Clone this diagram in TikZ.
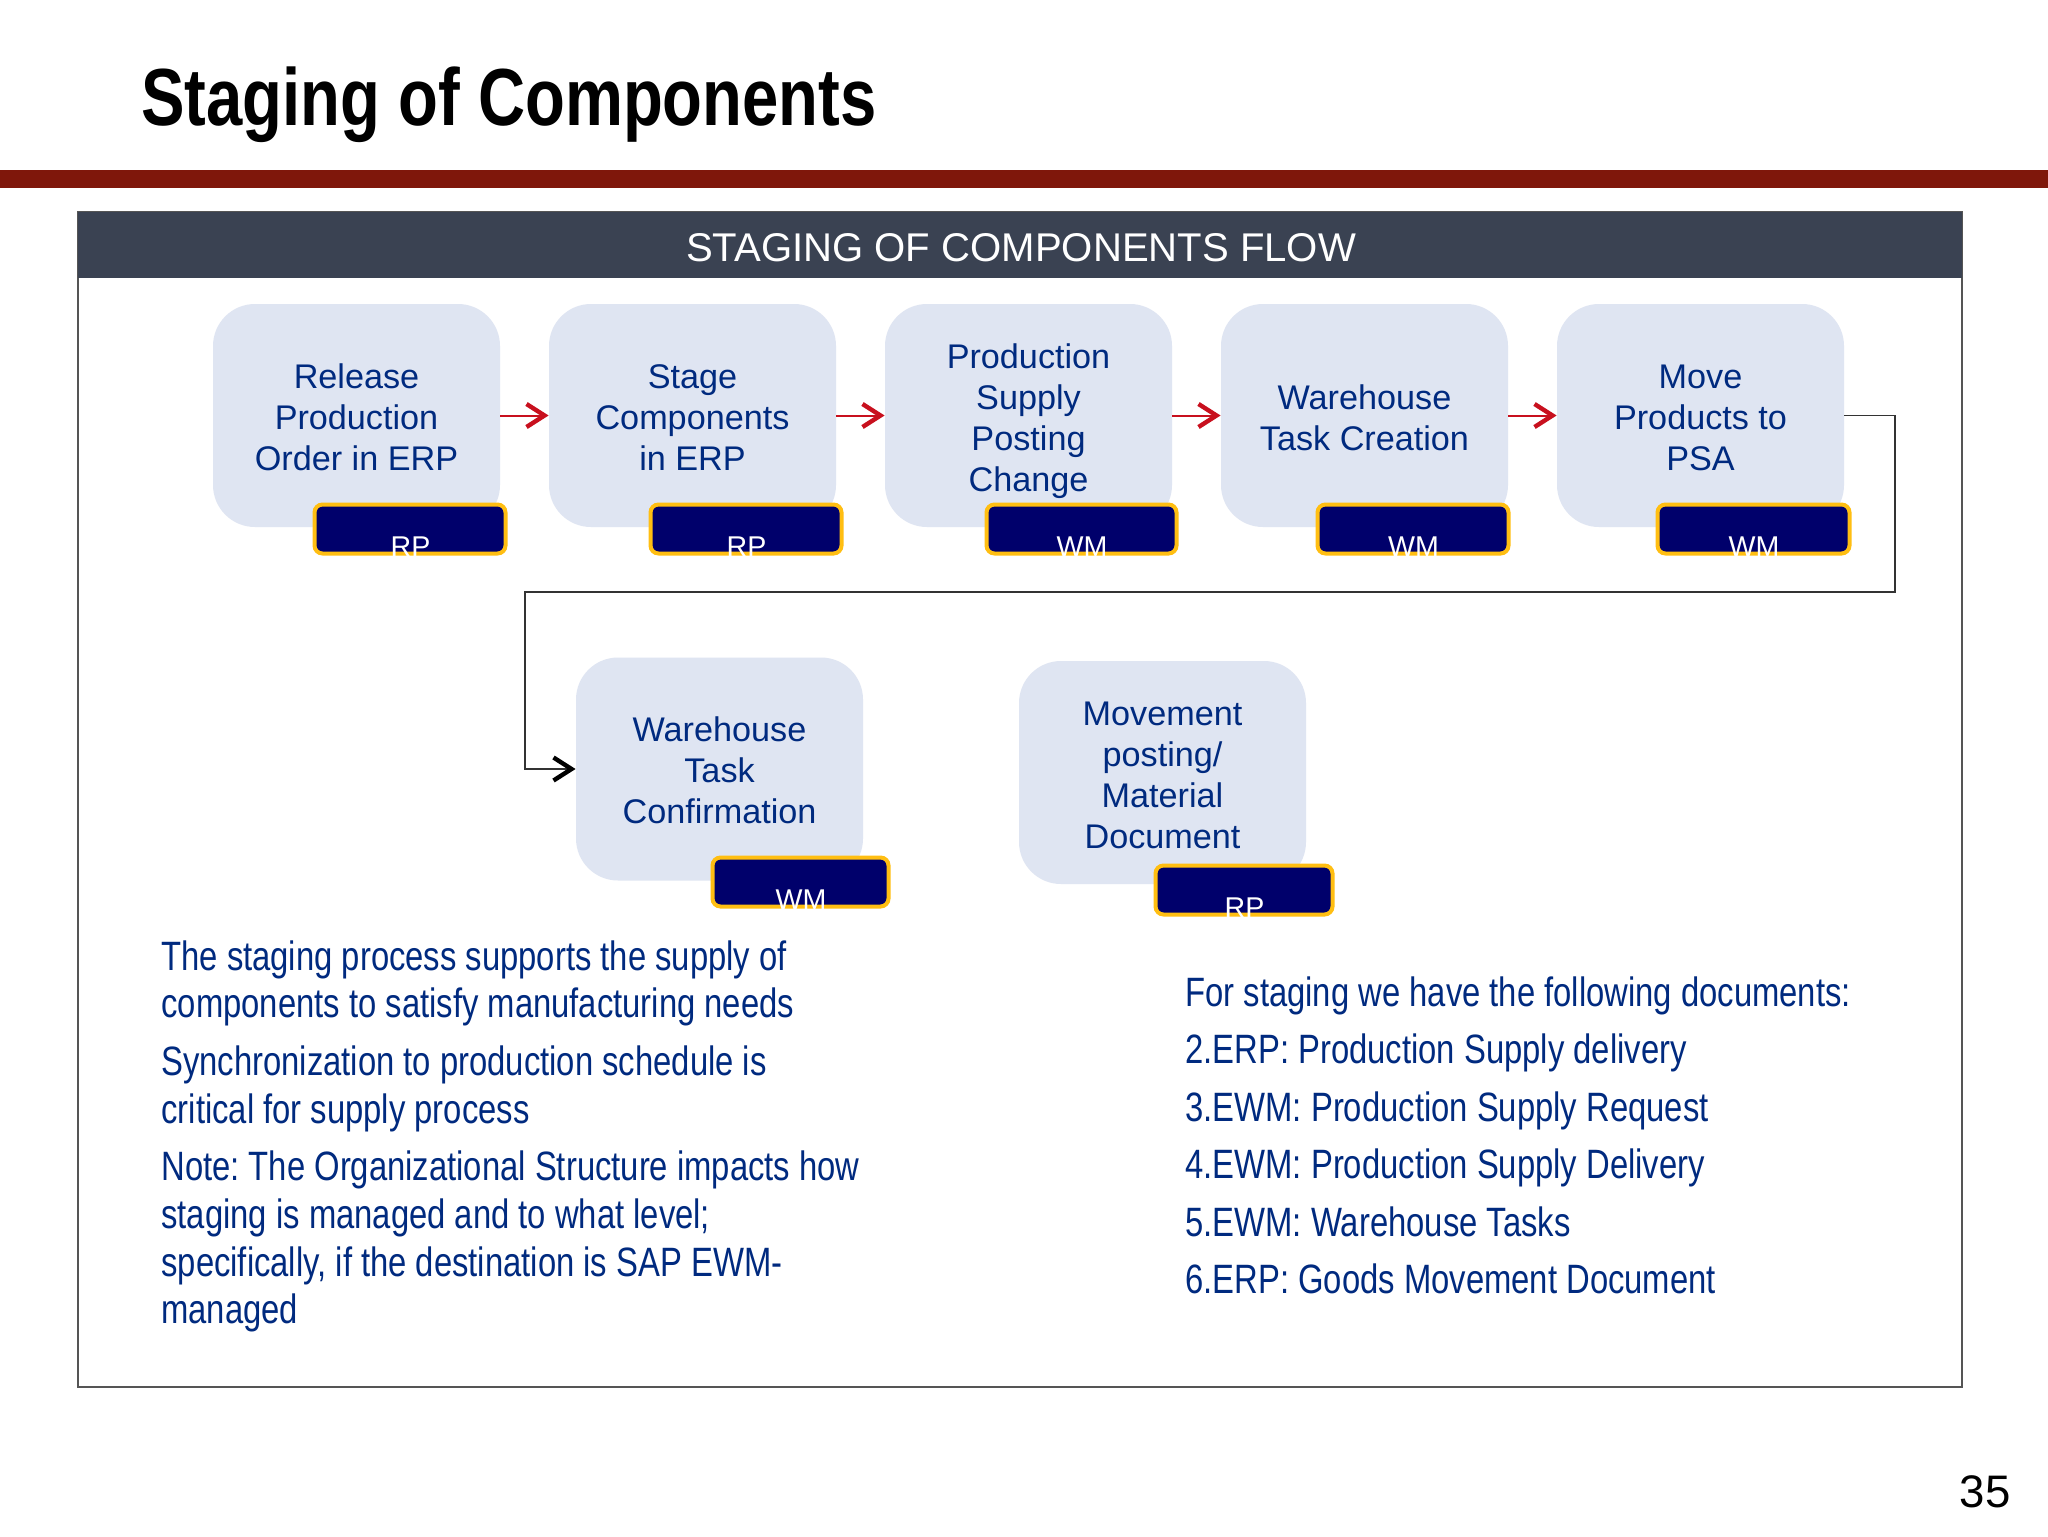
\documentclass[tikz,border=0pt]{standalone}
\usepackage{fontspec}
\setmainfont{Liberation Sans}
\newfontfamily\narrowfont[FakeStretch=0.8]{Liberation Sans}
\newfontfamily\narrowbold[FakeStretch=0.805]{Liberation Sans Bold}
\usetikzlibrary{arrows.meta}
\definecolor{barred}{HTML}{7F170B}
\definecolor{headbg}{HTML}{3A4252}
\definecolor{boxbg}{HTML}{DFE5F2}
\definecolor{inktext}{HTML}{002A7F}
\definecolor{badgebg}{HTML}{00006B}
\definecolor{badgeedge}{HTML}{FFBE12}
\definecolor{arrowred}{HTML}{C8101E}
\definecolor{linegrey}{HTML}{333333}
\definecolor{panelgrey}{HTML}{555555}
\tikzset{
  stepbox/.style={fill=boxbg,rounded corners=21pt,minimum width=143.5pt,minimum height=111.5pt,inner sep=0pt},
  steptext/.style={inner sep=0pt,align=center,text=inktext,font=\fontsize{17.1pt}{20.5pt}\selectfont},
  badgebox/.style={fill=badgebg,draw=badgeedge,line width=2pt,rounded corners=4pt,inner sep=0pt},
  badgetext/.style={text=white,font=\fontsize{14.3pt}{16pt}\selectfont,anchor=base,inner sep=0pt},
  redflow/.style={draw=arrowred,line width=1pt,-{Straight Barb[length=9pt,width=11.5pt,line width=2.2pt]}},
  blackflow/.style={draw=linegrey,line width=0.6pt,-{Straight Barb[length=9pt,width=11.5pt,line width=2.2pt,black]}},
  bodytext/.style={text=inktext,anchor=north west,inner sep=0pt,align=left,font=\narrowfont\frenchspacing\fontsize{20.5pt}{23.8pt}\selectfont},
}
% #1 name, #2 x1, #3 y1, #4 x2, #5 y2, #6 label
\newcommand{\badgeat}[6]{%
  \node[badgebox,minimum width={(#4-#2)*0.5pt-1.5pt},minimum height={(#5-#3)*0.5pt-1.5pt}] (#1) at ({(#2+#4)/2},{(#3+#5)/2}) {};
  \begin{scope}
    \clip (#2,#3) rectangle (#4,#5);
    \node[badgetext] (#1t) at ({(#2+#4)/2+0.5},#5+1) {#6};
  \end{scope}}
\begin{document}
\begin{tikzpicture}[x=0.5pt,y=-0.5pt]
\useasboundingbox (0,0) rectangle (2048,1536);
\fill[white] (0,0) rectangle (2048,1536);
\node[anchor=base west,inner sep=0pt,font=\narrowbold\fontsize{40.5pt}{44pt}\selectfont] (title) at (141,126) {Staging of Components};
\fill[barred] (0,170) rectangle (2048,188);
\draw[panelgrey,line width=0.6pt] (78,212) rectangle (1962,1387);
\fill[headbg] (78,212) rectangle (1962,278);
\node[text=white,font=\fontsize{20.05pt}{24pt}\selectfont,anchor=base,inner sep=0pt] (head) at (1021,261) {STAGING OF COMPONENTS FLOW};

\node[stepbox,label={[steptext,yshift=-1.1pt]center:{Release\\Production\\Order in ERP}}] (b1) at (356.5,415.5) {};
\node[stepbox,label={[steptext,yshift=-1.1pt]center:{Stage\\Components\\in ERP}}] (b2) at (692.5,415.5) {};
\node[stepbox,label={[steptext,yshift=-3pt]center:{Production\\Supply\\Posting\\Change}}] (b3) at (1028.5,415.5) {};
\node[stepbox,label={[steptext,yshift=-1pt]center:{Warehouse\\Task Creation}}] (b4) at (1364.5,415.5) {};
\node[stepbox,label={[steptext,yshift=-1.1pt]center:{Move\\Products to\\PSA}}] (b5) at (1700.5,415.5) {};
\node[stepbox,label={[steptext,yshift=-0.7pt]center:{Warehouse\\Task\\Confirmation}}] (b6) at (719.5,769) {};
\node[stepbox,label={[steptext,yshift=-1.6pt]center:{Movement\\posting/\\Material\\Document}}] (b7) at (1162.5,772.5) {};

\badgeat{r1}{313}{503}{507}{555}{RP}
\badgeat{r2}{649}{503}{843}{555}{RP}
\badgeat{r3}{985}{503}{1178}{555}{WM}
\badgeat{r4}{1316}{503}{1510}{555}{WM}
\badgeat{r5}{1656}{503}{1851}{555}{WM}
\badgeat{r6}{711}{856}{890}{908}{WM}
\badgeat{r7}{1154}{864}{1334}{916}{RP}

\draw[redflow] (b1.east) -- (b2.west);
\draw[redflow] (b2.east) -- (b3.west);
\draw[redflow] (b3.east) -- (b4.west);
\draw[redflow] (b4.east) -- (b5.west);
\coordinate (c1) at (1895,415.5);
\coordinate (c2) at (1895,592);
\coordinate (c3) at (525,592);
\coordinate (c4) at (525,769);
\draw[blackflow] (b5.east) -- (c1) -- (c2) -- (c3) -- (c4) -- (b6.west);

\node[bodytext] (left) at (161,940) {The staging process supports the supply of\\components to satisfy manufacturing needs\\[5.2pt]
Synchronization to production schedule is\\critical for supply process\\[5pt]
Note: The Organizational Structure impacts how\\staging is managed and to what level;\\specifically, if the destination is SAP EWM-\\managed};
\node[bodytext,font=\narrowfont\frenchspacing\fontsize{20.5pt}{28.75pt}\selectfont] (right) at (1185,976) {For staging we have the following documents:\\2.ERP: Production Supply delivery\\3.EWM: Production Supply Request\\4.EWM: Production Supply Delivery\\5.EWM: Warehouse Tasks\\6.ERP: Goods Movement Document};
\node[anchor=base east,inner sep=0pt,font=\fontsize{22.8pt}{26pt}\selectfont] (pageno) at (2011,1507) {35};
\end{tikzpicture}
\end{document}
